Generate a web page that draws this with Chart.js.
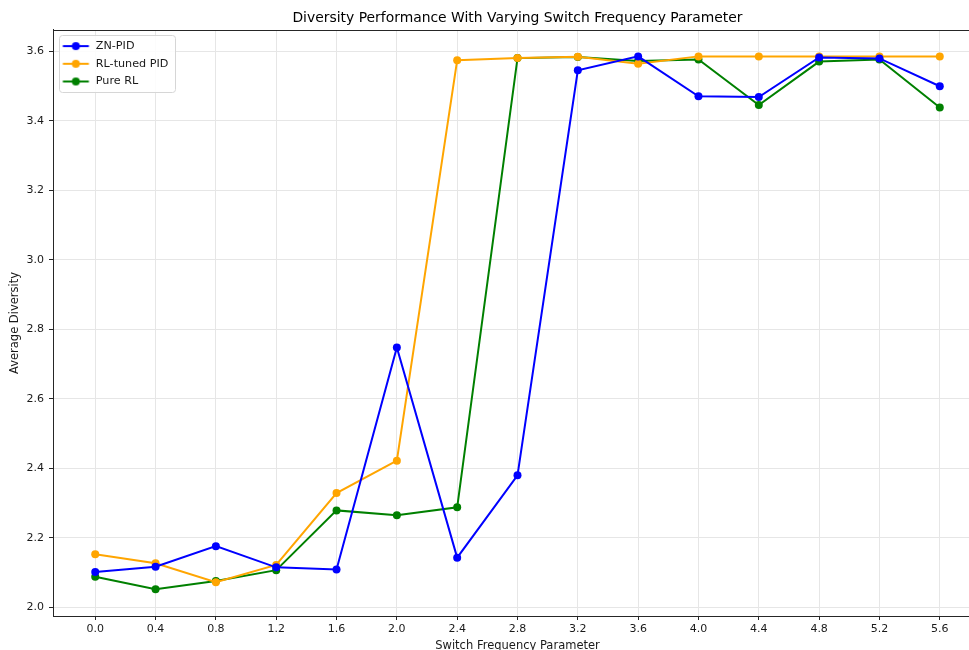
<!DOCTYPE html>
<html>
<head>
<meta charset="utf-8">
<script src="https://cdn.jsdelivr.net/npm/chart.js@4.4.0/dist/chart.umd.min.js"></script>
<style>
  html, body { margin: 0; padding: 0; width: 969px; height: 650px; overflow: hidden; background: #ffffff; }
  #wrap { width: 1035px; height: 662px; position: relative; }
</style>
</head>
<body>
<div id="wrap"><canvas id="chart"></canvas></div>
<script>
// Switch frequency parameter values (x axis)
const switchFreq = [0.0, 0.4, 0.8, 1.2, 1.6, 2.0, 2.4, 2.8, 3.2, 3.6, 4.0, 4.4, 4.8, 5.2, 5.6];

// Average diversity per controller
const znPid      = [2.102, 2.117, 2.176, 2.115, 2.109, 2.748, 2.143, 2.380, 3.546, 3.586, 3.471, 3.469, 3.583, 3.580, 3.500];
const rlTunedPid = [2.153, 2.127, 2.072, 2.122, 2.329, 2.422, 3.575, 3.581, 3.585, 3.565, 3.586, 3.586, 3.586, 3.586, 3.586];
const pureRl     = [2.088, 2.052, 2.076, 2.107, 2.279, 2.265, 2.288, 3.581, 3.584, 3.573, 3.577, 3.446, 3.571, 3.577, 3.439];

// Tick labels
const xTickValues = [0.0, 0.4, 0.8, 1.2, 1.6, 2.0, 2.4, 2.8, 3.2, 3.6, 4.0, 4.4, 4.8, 5.2, 5.6];
const yTickValues = [2.0, 2.2, 2.4, 2.6, 2.8, 3.0, 3.2, 3.4, 3.6];

const seriesNames  = ['ZN-PID', 'RL-tuned PID', 'Pure RL'];
const seriesColors = ['#0000ff', '#ffa500', '#008000'];
const seriesValues = [znPid, rlTunedPid, pureRl];

const FONT = 'DejaVu Sans';
const TEXT = '#1a1a1a';
const GRID = '#e6e6e6';
const SPINE = '#262626';

// Legend swatch: short line with a marker in the middle
function makeSwatch(color) {
  const c = document.createElement('canvas');
  c.width = 31; c.height = 10;
  const g = c.getContext('2d');
  g.strokeStyle = color; g.lineWidth = 2;
  g.beginPath(); g.moveTo(3.5, 5); g.lineTo(29.5, 5); g.stroke();
  g.fillStyle = color;
  g.beginPath(); g.arc(16.5, 5, 4, 0, Math.PI * 2); g.fill();
  return c;
}
const swatches = seriesColors.map(makeSwatch);

const datasets = seriesNames.map((name, i) => ({
  label: name,
  data: switchFreq.map((x, j) => ({ x: x, y: seriesValues[i][j] })),
  borderColor: seriesColors[i],
  backgroundColor: seriesColors[i],
  borderWidth: 2,
  pointRadius: 4,
  pointHoverRadius: 4,
  pointBorderWidth: 0,
  pointBackgroundColor: seriesColors[i],
  tension: 0,
  fill: false
}));

// Legend kept inside the plot area with a framed background, plus the top and right spines
const framePlugin = {
  id: 'frame',
  afterLayout(chart) {
    const lg = chart.legend;
    if (!lg) return;
    const dy = chart.chartArea.top - lg.top;
    if (dy !== 0) {
      lg.top += dy;
      lg.bottom += dy;
      (lg.legendHitBoxes || []).forEach(b => { b.top += dy; });
    }
    if (!lg._framed) {
      const orig = lg.draw;
      lg.draw = function () {
        const boxes = this.legendHitBoxes || [];
        if (boxes.length) {
          const left = Math.min(...boxes.map(b => b.left)) - 0.5;
          const right = Math.max(...boxes.map(b => b.left + b.width)) + 7;
          const top = Math.min(...boxes.map(b => b.top)) - 5.5;
          const bottom = Math.max(...boxes.map(b => b.top + b.height)) + 4.5;
          const ctx = this.ctx;
          ctx.save();
          ctx.beginPath();
          ctx.roundRect(Math.round(left) + 0.5, Math.round(top) + 0.5, Math.round(right - left), Math.round(bottom - top), 3);
          ctx.fillStyle = 'rgba(255,255,255,0.85)';
          ctx.fill();
          ctx.strokeStyle = '#d6d6d6';
          ctx.lineWidth = 1;
          ctx.stroke();
          ctx.restore();
        }
        orig.call(this);
      };
      lg._framed = true;
    }
  },
  afterDatasetsDraw(chart) {
    const { ctx, chartArea } = chart;
    const t = Math.round(chartArea.top) + 0.5;
    const r = Math.round(chartArea.right) - 0.5;
    ctx.save();
    ctx.strokeStyle = SPINE;
    ctx.lineWidth = 1;
    ctx.beginPath();
    ctx.moveTo(chartArea.left, t);
    ctx.lineTo(r, t);
    ctx.lineTo(r, chartArea.bottom);
    ctx.stroke();
    ctx.restore();
  }
};

new Chart(document.getElementById('chart'), {
  type: 'line',
  data: { datasets },
  plugins: [framePlugin],
  options: {
    responsive: true,
    maintainAspectRatio: false,
    animation: false,
    layout: { padding: 0, autoPadding: false },
    plugins: {
      title: {
        display: true,
        text: 'Diversity Performance With Varying Switch Frequency Parameter',
        color: '#000000',
        font: { family: FONT, size: 13.9, weight: 'normal' },
        padding: { top: 9.7, bottom: 3.6 }
      },
      legend: {
        position: 'chartArea',
        align: 'start',
        title: { display: true, text: '', font: { size: 3.34 }, padding: 0 },
        labels: {
          usePointStyle: true,
          pointStyleWidth: 30.7,
          padding: 6.5,
          color: TEXT,
          font: { family: FONT, size: 11.2 },
          generateLabels(chart) {
            const items = Chart.defaults.plugins.legend.labels.generateLabels(chart);
            items.forEach((it, i) => { it.pointStyle = swatches[i]; });
            return items;
          }
        }
      },
      tooltip: { enabled: false }
    },
    scales: {
      x: {
        type: 'linear',
        min: -0.28,
        max: 5.88,
        afterBuildTicks(s) { s.ticks = xTickValues.map(v => ({ value: v })); },
        afterFit(s) { s.height = 46; s.paddingLeft = 0; s.paddingRight = 0; },
        ticks: {
          color: TEXT,
          font: { family: FONT, size: 11 },
          padding: 3,
          maxRotation: 0,
          callback: v => Number(v).toFixed(1)
        },
        grid: { color: GRID, lineWidth: 1, drawTicks: true, tickLength: 4, tickColor: SPINE, tickWidth: 1 },
        border: { display: true, color: SPINE, width: 1 },
        title: {
          display: true,
          text: 'Switch Frequency Parameter',
          color: TEXT,
          font: { family: FONT, size: 11.5 },
          padding: { top: 0, bottom: 9.2 }
        }
      },
      y: {
        type: 'linear',
        min: 1.975,
        max: 3.662,
        afterBuildTicks(s) { s.ticks = yTickValues.map(v => ({ value: v })); },
        afterFit(s) { s.width = 53; s.paddingTop = 0; s.paddingBottom = 0; },
        ticks: {
          color: TEXT,
          font: { family: FONT, size: 11 },
          padding: 5,
          callback: v => Number(v).toFixed(1)
        },
        grid: { color: GRID, lineWidth: 1, drawTicks: true, tickLength: 4, tickColor: SPINE, tickWidth: 1 },
        border: { display: true, color: SPINE, width: 1 },
        title: {
          display: true,
          text: 'Average Diversity',
          color: TEXT,
          font: { family: FONT, size: 11.5 },
          padding: { top: 8.1, bottom: 0 }
        }
      },
      // empty margin on the right of the axes, mirroring the left axis width
      yRight: {
        type: 'linear',
        position: 'right',
        min: 1.975,
        max: 3.662,
        afterFit(s) { s.width = 53; s.paddingTop = 0; s.paddingBottom = 0; },
        ticks: { display: false },
        grid: { display: false, drawOnChartArea: false },
        border: { display: false },
        title: { display: false }
      }
    }
  }
});
</script>
</body>
</html>
